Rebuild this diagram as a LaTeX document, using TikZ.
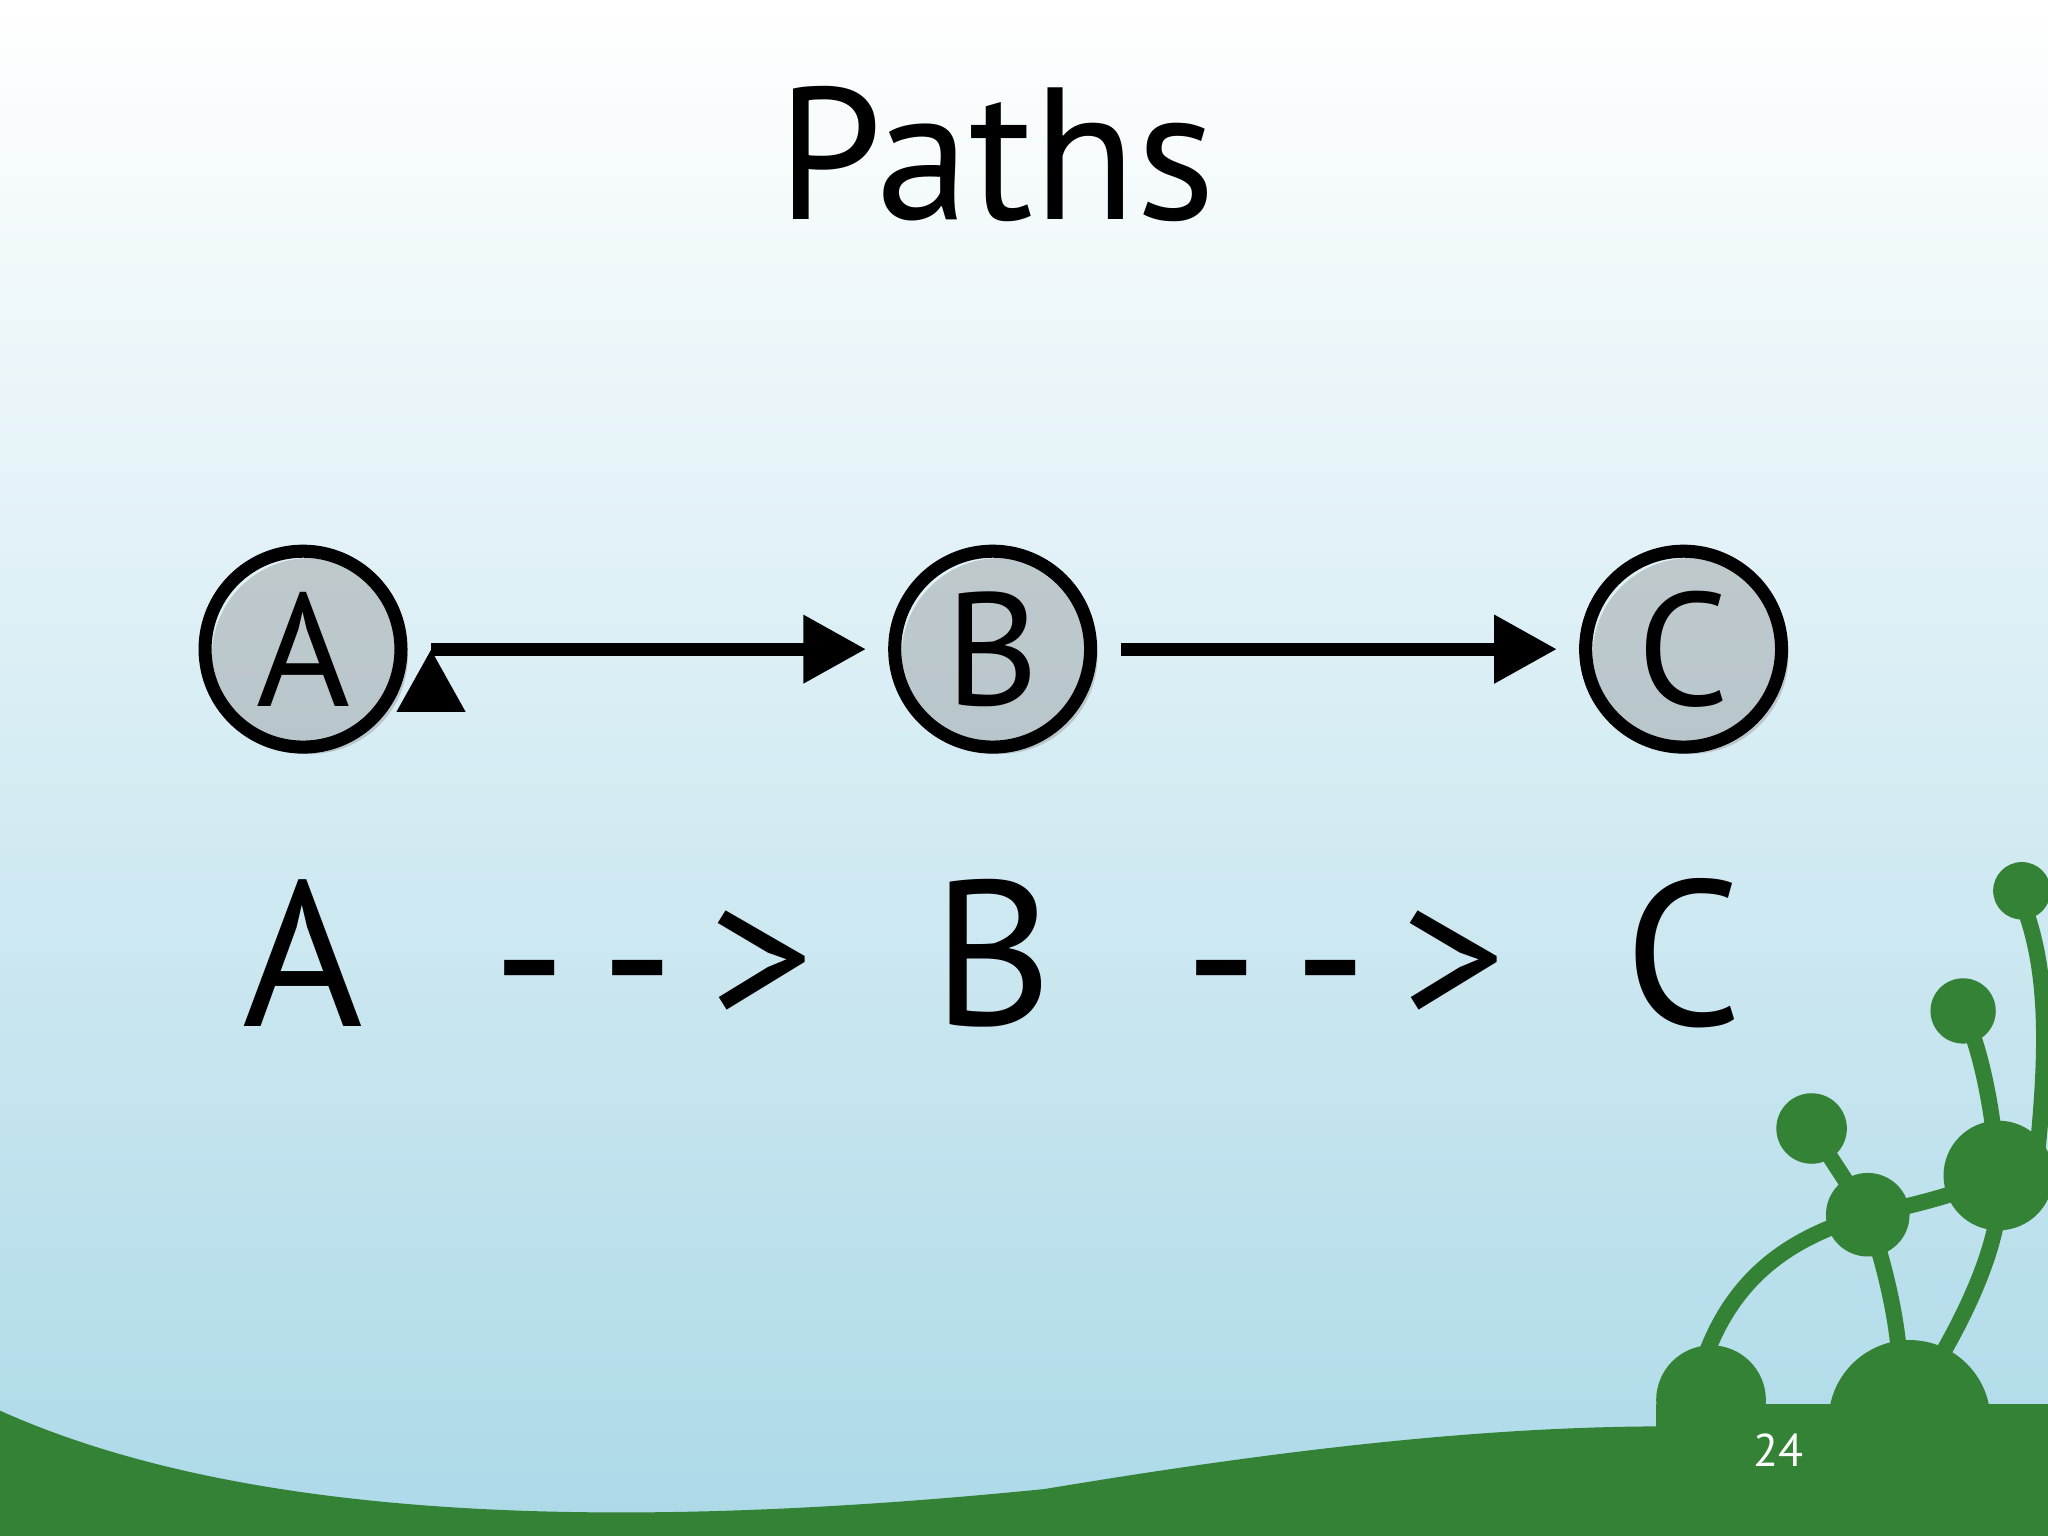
\documentclass[tikz,border=0pt]{standalone}
\usepackage{fontspec}
\setmainfont{PT Sans}
\usetikzlibrary{shadows,arrows.meta}
\begin{document}
\begin{tikzpicture}[x=0.02cm,y=-0.02cm,
  nd/.style={circle,draw=black,line width=10*0.02cm,minimum size=150*0.02cm,inner sep=0pt,fill=none,
    font=\fontsize{70}{70}\selectfont, drop shadow={shadow xshift=3pt,shadow yshift=-3pt,opacity=0.35}},
  ar/.style={line width=10*0.02cm,-{Triangle[length=48*0.02cm,width=50*0.02cm]}},
  big/.style={font=\fontsize{90}{90}\selectfont},
  grn/.style={fill=green!45!black!90!teal}]
\definecolor{gr}{HTML}{348235}
\shade[top color=white,bottom color=cyan!30!blue!10!white!85!cyan, middle color=blue!3!cyan!10!white] (0,0) rectangle (1568,1176);
\shade[top color=white,bottom color={rgb,255:red,172;green,217;blue,232}] (0,0) rectangle (1568,1176);
\useasboundingbox (0,0) rectangle (1568,1176);
% hill
\fill[gr] (0,1080) .. controls (200,1170) and (500,1170) .. (800,1140) .. controls (1100,1090) and (1350,1070) .. (1568,1125) -- (1568,1176) -- (0,1176) -- cycle;
% plant stems
\draw[gr,line width=7] (1305,1040) .. controls (1330,970) and (1380,945) .. (1430,930);
\draw[gr,line width=7] (1430,930) .. controls (1450,990) and (1455,1030) .. (1455,1060);
\draw[gr,line width=7] (1430,930) -- (1387,864);
\draw[gr,line width=7] (1430,930) .. controls (1480,920) and (1510,910) .. (1530,900);
\draw[gr,line width=7] (1485,1040) .. controls (1520,980) and (1535,930) .. (1530,900);
\draw[gr,line width=7] (1530,900) .. controls (1525,840) and (1515,800) .. (1503,774);
\draw[gr,line width=7] (1548,690) .. controls (1568,740) and (1568,800) .. (1560,880);
\fill[gr] (1548,682) circle (22);
\fill[gr] (1503,774) circle (25);
\fill[gr] (1387,864) circle (27);
\fill[gr] (1430,930) circle (32);
\fill[gr] (1530,900) circle (42);
\fill[gr] (1310,1072) circle (42);
\fill[gr] (1462,1088) circle (62);
\fill[gr] (1268,1075) rectangle (1568,1176);
\fill[gr] (1268,1075) .. controls (1400,1078) .. (1568,1110) -- (1568,1176) -- (1268,1176) -- cycle;
\node[white,font=\fontsize{20}{20}\selectfont] (pg) at (1362,1110) {24};
% title
\node[font=\fontsize{82}{82}\selectfont] (t) at (763,118) {Paths};
% graph
\node[nd] (A) at (232,497) {A};
\node[nd] (B) at (760,497) {B};
\node[nd] (C) at (1289,497) {C};
\draw[ar] (A.east)++(18,0) coordinate (a1);
\draw[ar] (330,497) -- (663,497);
\draw[ar] (858,497) -- (1192,497);
% text line
\node[big] (la) at (232,730) {A};
\node[big] (lb) at (760,730) {B};
\node[big] (lc) at (1289,730) {C};
\node[big] (l1) at (500,742) {-\,-\,>};
\node[big] (l2) at (1030,742) {-\,-\,>};
\end{tikzpicture}
\end{document}
